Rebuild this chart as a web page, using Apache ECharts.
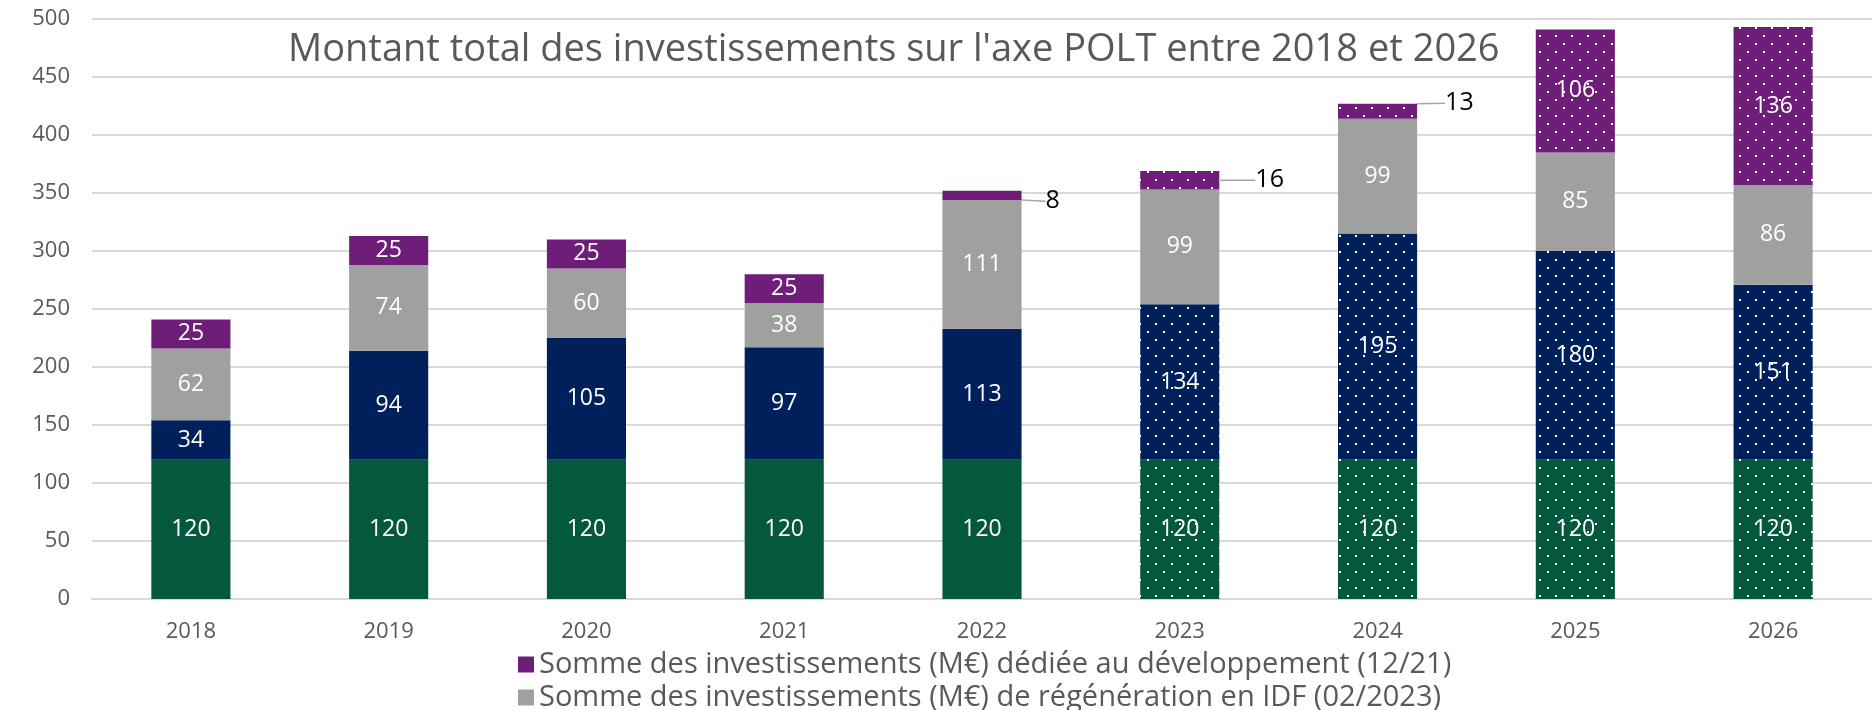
<!DOCTYPE html>
<html>
<head>
<meta charset="utf-8">
<script src="https://cdn.jsdelivr.net/npm/echarts@6/dist/echarts.min.js"></script>
<style>
  html, body { margin: 0; padding: 0; background: #fff; }
  #chart { width: 1872px; height: 710px; }
</style>
</head>
<body>
<div id="chart"></div>
<script>
const years = ['2018', '2019', '2020', '2021', '2022', '2023', '2024', '2025', '2026'];
const baseValues = [120, 120, 120, 120, 120, 120, 120, 120, 120];
const regenValues = [34, 94, 105, 97, 113, 134, 195, 180, 151];
const idfValues = [62, 74, 60, 38, 111, 99, 99, 85, 86];
const devValues = [25, 25, 25, 25, 8, 16, 13, 106, 136];
const firstDotted = 5; // from 2023 the bars are forecast (dotted)

const DEV_NAME = 'Somme des investissements (M€) dédiée au développement (12/21)';
const IDF_NAME = 'Somme des investissements (M€) de régénération en IDF (02/2023)';

const GREEN = '#03583d', NAVY = '#00205c', GREY = '#a0a0a0', PURPLE = '#6e1e78';
const FONT = '"Open Sans", "Noto Sans", sans-serif';

function dots(bg) {
  const c = document.createElement('canvas');
  c.width = 16; c.height = 16;
  const g = c.getContext('2d');
  g.fillStyle = bg;
  g.fillRect(0, 0, 16, 16);
  g.fillStyle = '#fff';
  g.fillRect(3, 3, 2, 2);
  g.fillRect(11, 11, 2, 2);
  return { image: c, repeat: 'repeat' };
}

function makeData(values, color, dotted) {
  return values.map((v, i) => {
    const item = { value: v };
    if (dotted && i >= firstDotted) item.itemStyle = { color: dots(color) };
    return item;
  });
}

const insideLabel = { show: true, position: 'inside', color: '#fff', fontSize: 23, fontFamily: FONT };
const legendText = { color: '#595959', fontSize: 29, fontFamily: FONT };

const chart = echarts.init(document.getElementById('chart'));
chart.setOption({
  animation: false,
  title: {
    text: "Montant total des investissements sur l'axe POLT entre 2018 et 2026",
    left: 283, top: 26,
    textStyle: { color: '#595959', fontSize: 38, fontWeight: 'normal', fontFamily: FONT }
  },
  legend: [
    {
      left: 513, top: 645, itemWidth: 16, itemHeight: 16, itemGap: 0, icon: 'rect',
      data: [DEV_NAME], textStyle: legendText
    },
    {
      left: 513, top: 678, itemWidth: 16, itemHeight: 16, itemGap: 0, icon: 'rect',
      data: [IDF_NAME], textStyle: legendText
    }
  ],
  grid: { left: 92, right: 0, top: 19, bottom: 111 },
  xAxis: {
    type: 'category', data: years,
    axisTick: { show: false },
    axisLine: { lineStyle: { color: '#d9d9d9', width: 2 } },
    axisLabel: { color: '#595959', fontSize: 22, fontFamily: FONT, margin: 22 }
  },
  yAxis: {
    type: 'value', min: 0, max: 500, interval: 50,
    axisLabel: { color: '#595959', fontSize: 22, fontFamily: FONT, margin: 22 },
    splitLine: { lineStyle: { color: '#d9d9d9', width: 2 } }
  },
  series: [
    {
      name: 'Socle', type: 'bar', stack: 'total', barWidth: '40%',
      itemStyle: { color: GREEN },
      label: insideLabel,
      data: makeData(baseValues, GREEN, true)
    },
    {
      name: 'Régénération', type: 'bar', stack: 'total',
      itemStyle: { color: NAVY },
      label: insideLabel,
      data: makeData(regenValues, NAVY, true)
    },
    {
      name: IDF_NAME, type: 'bar', stack: 'total',
      itemStyle: { color: GREY },
      label: insideLabel,
      data: makeData(idfValues, GREY, false)
    },
    {
      name: DEV_NAME, type: 'bar', stack: 'total',
      itemStyle: { color: PURPLE },
      label: insideLabel,
      labelLine: { show: true, lineStyle: { color: '#a6a6a6', width: 1.5 } },
      labelLayout: function (p) {
        if (p.dataIndex === 4) return { dx: -4, dy: 6 };
        if (p.dataIndex === 5) return { dx: 8, dy: 0 };
        if (p.dataIndex === 6) return { dx: 0, dy: -8 };
        return {};
      },
      data: makeData(devValues, PURPLE, true).map((d, i) => {
        if (i >= 4 && i <= 6) {
          d.label = { position: 'right', distance: 28, color: '#000', fontSize: 25 };
        }
        return d;
      })
    }
  ]
});
</script>
</body>
</html>
